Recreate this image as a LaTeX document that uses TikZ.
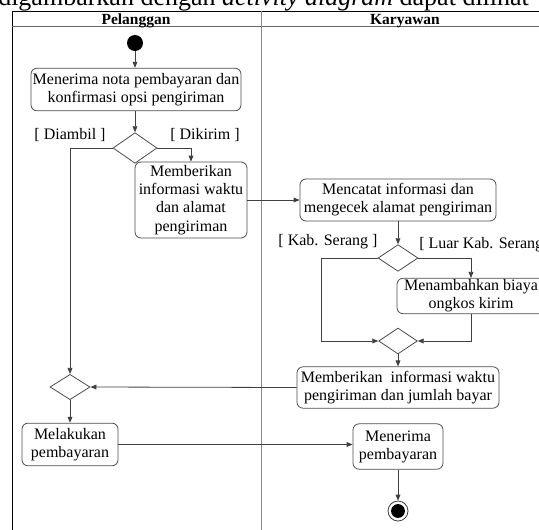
\documentclass[tikz,border=0pt]{standalone}
\usepackage{fontspec}
\setmainfont{Liberation Serif}
\usetikzlibrary{arrows.meta, positioning, calc, shapes.geometric}

\begin{document}
\begin{tikzpicture}[x=0.75pt, y=-0.75pt,
    font=\fontsize{12}{13.6}\selectfont,
    act/.style={draw=black!70, line width=0.6pt, rounded corners=4.5pt, align=center, inner sep=1pt},
    dec/.style={diamond, draw=black!70, line width=0.6pt, inner sep=0pt},
    flow/.style={draw=black!75, line width=0.6pt, -{Triangle[length=4.5pt, width=3.6pt]}},
    guard/.style={inner sep=0pt}]
    \useasboundingbox (0,0) rectangle (539,529);

    % Text above the diagram
    \node[anchor=base west, inner sep=0pt, font=\fontsize{19.5}{22}\selectfont] (caption) at (-2,5.5) {digambarkan dengan \textit{activity diagram} dapat dilihat};

    % Swimlanes
    \draw[black, line width=0.7pt] (12,540) -- (12,11) -- (560,11);
    \draw[black!60, line width=0.7pt] (12,26) -- (560,26);
    \draw[black!45, line width=0.7pt] (261,11) -- (261,540);
    \node[anchor=base, inner sep=0pt, font=\fontsize{11.6}{13.5}\bfseries] (lane1) at (136,24.5) {Pelanggan};
    \node[anchor=base, inner sep=0pt, font=\fontsize{11.6}{13.5}\bfseries] (lane2) at (405,24.5) {Karyawan};

    % Start and end
    \node[circle, fill=black, inner sep=0pt, minimum size=12pt] (start) at (135,43) {};
    \node[circle, draw=black!75, line width=0.6pt, inner sep=0pt, minimum size=15pt] (ende) at (398,511) {};
    \fill (ende.center) circle (5.2pt);

    % Activities
    \node[act, minimum width=157.5pt, minimum height=32pt] (terimanota) at (136,89.5) {Menerima nota pembayaran dan\\konfirmasi opsi pengiriman};
    \node[act, minimum width=84pt, minimum height=57pt] (infoalamat) at (191,200) {Memberikan\\informasi waktu\\dan alamat\\pengiriman};
    \node[act, minimum width=147pt, minimum height=31.5pt] (catat) at (398,200) {Mencatat informasi dan\\mengecek alamat pengiriman};
    \node[act, minimum width=111pt, minimum height=25.5pt] (ongkir) at (471,296) {Menambahkan biaya\\ongkos kirim};
    \node[act, minimum width=151.5pt, minimum height=31pt] (infobayar) at (398,387.5) {Memberikan~ informasi waktu\\pengiriman dan jumlah bayar};
    \node[act, minimum width=72pt, minimum height=32pt] (bayar) at (70,444.5) {Melakukan\\pembayaran};
    \node[act, minimum width=67.5pt, minimum height=34pt] (terimabayar) at (398,446.5) {Menerima\\pembayaran};

    % Decisions and merges
    \node[dec, minimum width=33pt, minimum height=23pt] (opsi) at (135,148) {};
    \node[dec, minimum width=30pt, minimum height=20pt] (wilayah) at (398,258) {};
    \node[dec, minimum width=29pt, minimum height=19.5pt] (gabung) at (398,341) {};
    \node[dec, minimum width=30pt, minimum height=19pt] (gabungbayar) at (70,387) {};

    % Guards
    \node[guard] (diambil) at (70,135) {[ Diambil ]};
    \node[guard] (dikirim) at (205,135) {[ Dikirim ]};
    \node[guard] (serang) at (328,242) {[ Kab. Serang ]};
    \node[guard, anchor=west] (luar) at (419,245) {[ Luar Kab. Serang ]};

    % Flows
    \draw[flow] (start) -- (start |- terimanota.north);
    \draw[flow] (terimanota.south -| opsi.north) -- (opsi.north);
    \draw[flow] (opsi.west) -| (gabungbayar.north);
    \draw[flow] (opsi.east) -| (infoalamat.north);
    \draw[flow] (infoalamat.east) -- (catat.west);
    \draw[flow] (catat.south) -- (wilayah.north);
    \draw[flow] (wilayah.west) -- ++(-56,0) |- (gabung.west);
    \draw[flow] (wilayah.east) -| (ongkir.north);
    \draw[flow] (ongkir.south) |- (gabung.east);
    \draw[flow] (gabung.south) -- (infobayar.north);
    \draw[flow] (infobayar.west) -- (gabungbayar.east);
    \draw[flow] (gabungbayar.south) -- (bayar.north);
    \draw[flow] (bayar.east) -- (bayar.east -| terimabayar.west);
    \draw[flow] (terimabayar.south) -- (ende.north);

\end{tikzpicture}
\end{document}
